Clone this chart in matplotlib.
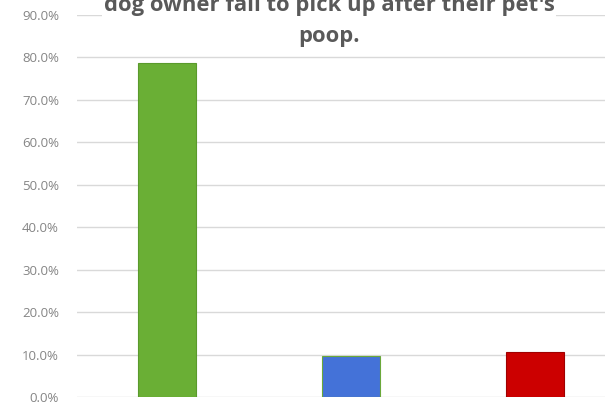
import matplotlib
matplotlib.use("Agg")
import matplotlib.pyplot as plt
from matplotlib.ticker import FuncFormatter

categories = ["Fail to pick up", "Sometimes", "Always pick up"]
values = [78.8, 9.6, 10.7]
bar_colors = ["#6aaf35", "#4472d8", "#cc0000"]
edge_colors = ["#5a9a2c", "#6aa83a", "#a00000"]
title_text = "dog owner fail to pick up after their pet's\npoop."
yticks = [0, 10, 20, 30, 40, 50, 60, 70, 80, 90]

W, H = 615, 408
fig = plt.figure(figsize=(W / 100, H / 100), dpi=100)
fig.patch.set_facecolor("white")

left_px, right_px, bottom_px, top_px = 77, 605, 397, 15
ax = fig.add_axes([left_px / W, (H - bottom_px) / H,
                   (right_px - left_px) / W, (bottom_px - top_px) / H])

x = list(range(len(categories)))
ax.bar(x, values, width=0.315, color=bar_colors, edgecolor=edge_colors,
       linewidth=0.8, zorder=3)

# x-axis range so bars land at the reference positions
ax.set_xlim(-0.49, 2.38)
ax.set_ylim(0, 90)
ax.set_yticks(yticks)
ax.yaxis.set_major_formatter(FuncFormatter(lambda v, p: f"{v:.1f}%"))
ax.set_xticks([])
ax.grid(axis="y", color="#d9d9d9", linewidth=1.0, zorder=0)
for s in ["top", "right", "left", "bottom"]:
    ax.spines[s].set_visible(False)
ax.tick_params(axis="y", length=0, pad=13, labelsize=9.5, labelcolor="#858585")
for lab in ax.get_yticklabels():
    lab.set_fontfamily("Open Sans")

fig.text(329 / W, (H - 47) / H, title_text, ha="center", va="bottom",
         fontsize=15.8, fontweight="bold", color="#595959",
         family="Open Sans", linespacing=1.6, zorder=5,
         bbox=dict(facecolor="white", edgecolor="none", pad=1))

fig.savefig("out.png", dpi=100, facecolor="white")
